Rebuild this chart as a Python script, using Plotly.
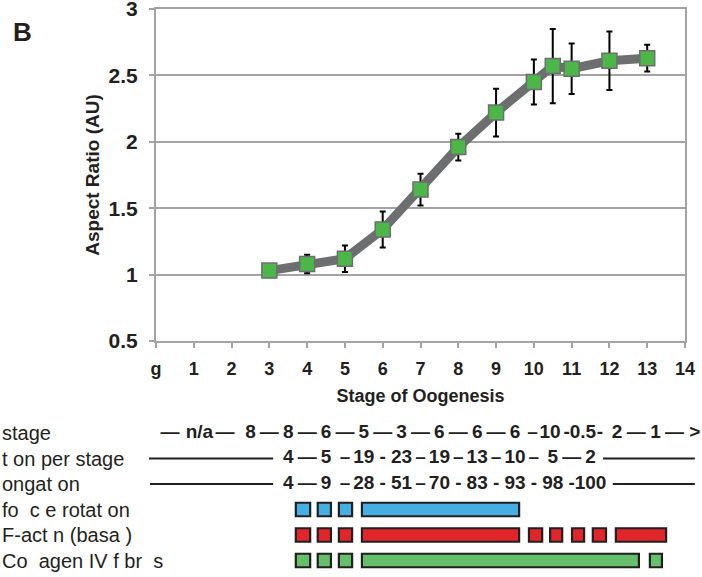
import plotly.graph_objects as go

# ---------------- data ----------------
stages = [3, 4, 5, 6, 7, 8, 9, 10, 10.5, 11, 12, 13]
aspect_ratio = [1.03, 1.08, 1.12, 1.34, 1.64, 1.96, 2.22, 2.45, 2.57, 2.55, 2.61, 2.63]
aspect_err = [0.02, 0.07, 0.10, 0.135, 0.12, 0.10, 0.18, 0.17, 0.28, 0.19, 0.22, 0.10]

tick_vals = list(range(15))
tick_text = ["g", "1", "2", "3", "4", "5", "6", "7", "8", "9", "10", "11", "12", "13", "14"]

NB = "\u00a0"
row_labels = ["stage",
              "t" + NB + "on per stage",
              "ongat" + NB + "on",
              "fo" + NB * 2 + "c" + NB + "e rotat" + NB + "on",
              "F-act" + NB + "n (basa" + NB + ")",
              "Co" + NB * 2 + "agen IV f" + NB + "br" + NB * 2 + "s"]

EM, EN = "\u2014", "\u2013"
hours_text = ["n/a", "8", "8", "6", "5", "3", "6", "6", "6", "10", "0.5", "2", "1"]
hours_pos = [1.15, 2.5, 3.5, 4.5, 5.5, 6.5, 7.5, 8.5, 9.5, 10.43, 11.3, 12.2, 13.22]
hours_dash = [EM] * 8 + [EN, "-", "-", EM]

elong_stage_text = ["4", "5", "19", "23", "19", "13", "10", "5", "2"]
elong_total_text = ["4", "9", "28", "51", "70", "83", "93", "98", "100"]
elong_pos = [3.5, 4.5, 5.5, 6.5, 7.5, 8.5, 9.5, 10.5, 11.5]
elong_stage_dash = [EM, EN, "-", EN, EN, EN, EN, EM]
elong_total_dash = [EM, EN, "-", EN, "-", "-", "-", "-"]

rotation_start = [3.70, 4.28, 4.84, 5.45]
rotation_end = [4.08, 4.63, 5.19, 9.61]
factin_start = [3.70, 4.28, 4.84, 5.45, 9.87, 10.43, 11.01, 11.56, 12.17]
factin_end = [4.08, 4.63, 5.19, 9.61, 10.22, 10.75, 11.33, 11.91, 13.50]
collagen_start = [3.70, 4.28, 4.84, 5.45, 13.07]
collagen_end = [4.08, 4.63, 5.19, 12.78, 13.39]

# ---------------- layout constants ----------------
W, H = 702, 577
PX0, PX1 = 156, 685           # plot area x pixels
PY0, PY1 = 9, 341             # plot area y pixels (top, bottom)
FONT = "Liberation Sans, Arial, Helvetica, sans-serif"
INK = "#231f20"
GRID = "#a3a3a3"

ppu = (PX1 - PX0) / 14.0
x2_range = [-PX0 / ppu, (W - PX0) / ppu]
ROW_TOP, ROW_H = 420.25, 25.5
y2_dom = [(H - (ROW_TOP + 6 * ROW_H)) / H, (H - ROW_TOP) / H]
BOLDN = dict(family=FONT, size=19, color=INK, weight="bold")

fig = go.Figure()

# main line + markers
fig.add_trace(go.Scatter(
    x=stages, y=aspect_ratio, mode="lines+markers",
    line=dict(color="#6d6e70", width=9),
    marker=dict(symbol="square", size=15, color="#4cb648",
                line=dict(color="#6d6e70", width=1.5)),
    error_y=dict(type="data", array=aspect_err, visible=True,
                 color="#000000", thickness=2, width=3),
    showlegend=False, hoverinfo="skip",
))

# ---------------- table below ----------------
def add_text_row(texts, pos, dashes, row):
    fig.add_trace(go.Scatter(
        x=pos, y=[row] * len(pos), mode="text", text=texts,
        textposition="middle center", textfont=BOLDN,
        xaxis="x2", yaxis="y2", cliponaxis=False, showlegend=False, hoverinfo="skip"))
    dx = [(pos[i] + pos[i + 1]) / 2 for i in range(len(pos) - 1)]
    fig.add_trace(go.Scatter(
        x=dx, y=[row] * len(dx), mode="text", text=dashes,
        textposition="middle center", textfont=BOLDN,
        xaxis="x2", yaxis="y2", cliponaxis=False, showlegend=False, hoverinfo="skip"))

# row 0: hours per stage
add_text_row(hours_text, hours_pos, hours_dash, 0)
fig.add_trace(go.Scatter(
    x=[hours_pos[0] - 0.78, hours_pos[-1] + 0.5, hours_pos[-1] + 1.04], y=[0, 0, 0],
    mode="text", text=[EM, EM, ">"], textposition="middle center",
    textfont=BOLDN,
    xaxis="x2", yaxis="y2", cliponaxis=False, showlegend=False, hoverinfo="skip"))

# rows 1, 2
add_text_row(elong_stage_text, elong_pos, elong_stage_dash, 1)
add_text_row(elong_total_text, elong_pos, elong_total_dash, 2)
for row, lead, trail in [(1, (-0.185, 3.10), (11.83, 14.26)), (2, (-0.16, 3.10), (12.09, 14.26))]:
    fig.add_trace(go.Scatter(
        x=[lead[0], lead[1], None, trail[0], trail[1]], y=[row, row, None, row, row],
        mode="lines", line=dict(color=INK, width=2),
        xaxis="x2", yaxis="y2", showlegend=False, hoverinfo="skip"))

# rows 3-5: bars
for row, starts, ends, col in [(3, rotation_start, rotation_end, "#45aee3"),
                               (4, factin_start, factin_end, "#e1262b"),
                               (5, collagen_start, collagen_end, "#66bf6b")]:
    fig.add_trace(go.Bar(
        orientation="h", y=[row] * len(starts), base=starts,
        x=[e - s for s, e in zip(starts, ends)], width=0.53,
        marker=dict(color=col, line=dict(color=INK, width=2.2)),
        xaxis="x2", yaxis="y2", showlegend=False, hoverinfo="skip"))

# row labels
for i, lab in enumerate(row_labels):
    fig.add_annotation(x=0, xref="paper", xanchor="left", y=i, yref="y2",
                       text=lab, showarrow=False,
                       font=dict(family=FONT, size=20, color=INK))

# panel letter
fig.add_annotation(x=22 / W, y=1 - 32 / H, xref="paper", yref="paper",
                   text="<b>B</b>", showarrow=False, xanchor="center", yanchor="middle",
                   font=dict(family=FONT, size=26, color=INK))

fig.update_layout(
    width=W, height=H,
    margin=dict(l=0, r=0, t=0, b=0, autoexpand=False),
    paper_bgcolor="white", plot_bgcolor="white",
    barmode="overlay",
    xaxis=dict(domain=[PX0 / W, PX1 / W], range=[0, 14], automargin=False,
               tickvals=tick_vals, ticktext=tick_text, ticklabeloverflow="allow",
               tickfont=dict(family=FONT, size=18, color=INK, weight="bold"),
               ticklabelstandoff=5,
               showgrid=False, zeroline=False,
               showline=True, linecolor=GRID, linewidth=2, mirror=True,
               ticks="outside", ticklen=5, tickwidth=2, tickcolor=GRID,
               title=dict(text="<b>Stage of Oogenesis</b>", standoff=12,
                          font=dict(family=FONT, size=18, color=INK))),
    yaxis=dict(domain=[(H - PY1) / H, (H - PY0) / H], range=[0.5, 3], automargin=False,
               tickvals=[0.5, 1, 1.5, 2, 2.5, 3], ticklabeloverflow="allow",
               ticktext=["0.5", "1", "1.5", "2", "2.5", "3"],
               tickfont=dict(family=FONT, size=21, color=INK, weight="bold"),
               ticklabelstandoff=7,
               showgrid=True, gridcolor=GRID, gridwidth=2, zeroline=False,
               showline=True, linecolor=GRID, linewidth=2, mirror=True,
               ticks="outside", ticklen=5, tickwidth=2, tickcolor=GRID,
               title=dict(text="<b>Aspect Ratio (AU)</b>", standoff=4,
                          font=dict(family=FONT, size=19, color=INK))),
    xaxis2=dict(domain=[0, 1], range=x2_range, visible=False, anchor="y2"),
    yaxis2=dict(domain=y2_dom, range=[5.5, -0.5], visible=False, anchor="x2"),
)

fig.write_html("out.html", config={"displayModeBar": False},
               post_script="document.body.style.margin='0';")
